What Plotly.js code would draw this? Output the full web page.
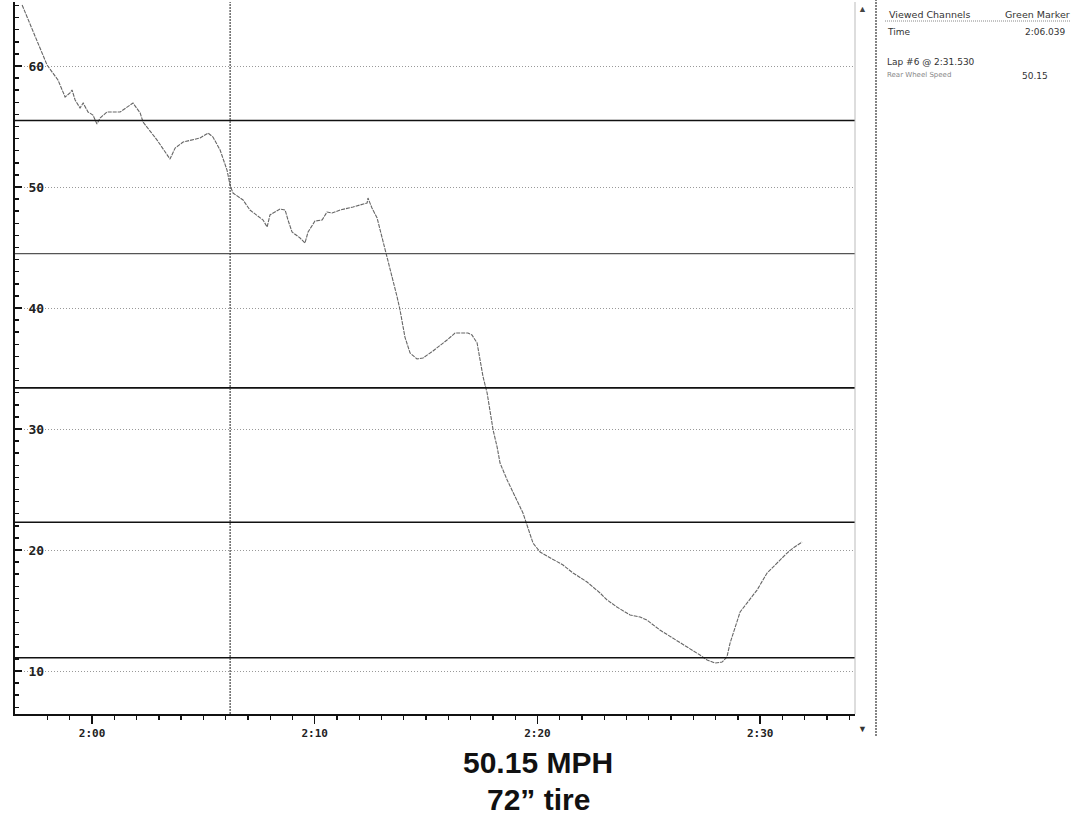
<!DOCTYPE html>
<html>
<head>
<meta charset="utf-8">
<script src="https://cdn.plot.ly/plotly-3.0.1.min.js"></script>
<style>html,body{margin:0;padding:0;background:#fff;}#chart{width:1073px;height:818px;}</style>
</head>
<body>
<div id="chart"></div>
<script>
// Lap time in seconds (120 = 2:00)
const time = [116.86,117.98,118.47,118.79,119.01,119.10,119.24,119.46,119.60,119.82,120.04,120.22,120.36,120.67,121.26,121.84,122.16,122.29,122.92,123.50,123.73,124.09,124.85,125.21,125.43,125.75,126.06,126.20,126.33,126.78,127.09,127.68,127.86,127.99,128.44,128.67,128.80,128.98,129.34,129.56,129.70,130.01,130.33,130.55,130.78,131.14,131.72,132.35,132.39,132.57,132.80,133.02,133.25,133.47,133.70,133.83,134.05,134.28,134.59,134.86,135.31,135.94,136.30,136.88,137.06,137.29,137.42,137.56,137.74,137.87,138.01,138.19,138.32,138.64,138.99,139.35,139.53,139.80,140.12,140.57,141.15,141.60,142.23,142.81,143.13,143.57,144.16,144.61,144.92,145.50,146.09,146.72,147.30,147.62,147.97,148.29,148.51,148.65,148.87,149.10,149.41,149.86,150.31,150.76,151.21,151.48,151.88];
// Rear wheel speed (MPH)
const speed = [65.04,60.08,58.84,57.44,57.77,58.02,57.19,56.53,56.94,56.20,55.95,55.21,55.70,56.20,56.20,56.94,56.12,55.37,53.88,52.31,53.22,53.72,54.05,54.46,54.13,53.06,51.40,50.15,49.50,48.93,48.10,47.27,46.69,47.69,48.18,48.10,47.27,46.28,45.79,45.37,46.28,47.19,47.27,47.93,47.85,48.10,48.35,48.68,49.09,48.26,47.44,45.87,44.21,42.56,40.91,39.83,37.60,36.28,35.79,35.87,36.45,37.36,37.93,37.93,37.77,37.11,35.70,34.30,32.98,31.57,29.92,28.51,27.19,25.79,24.38,23.06,22.07,20.58,19.83,19.34,18.76,18.10,17.36,16.45,15.87,15.29,14.63,14.46,14.21,13.39,12.73,11.98,11.32,10.91,10.66,10.74,11.16,12.31,13.64,14.88,15.62,16.69,18.10,18.93,19.75,20.17,20.66];
// Tick labels
const xTickVals = [120,130,140,150];
const xTickText = ['2:00','2:10','2:20','2:30'];
// Dark reference lines (MPH)
const refLines = [55.5,44.5,33.4,22.3,11.1];
// Cursor
const cursorTime = 126.2;
const cursorLabel = '2:06.039';
const cursorSpeed = '50.15';
const lapLabel = 'Lap #6 @ 2:31.530';
const channelName = 'Rear Wheel Speed';
const titleLines = ['50.15 MPH', '72\u201D tire'];

const L = 15, R = 855, T = 2, B = 714;
const px2x = p => (p - L) / (R - L);
const py2y = p => (B - p) / (B - T);

const shapes = [];
refLines.forEach((v, i) => {
  shapes.push({type:'line', xref:'paper', x0:0, x1:1, yref:'y', y0:v, y1:v,
    line:{color: i === 1 ? '#555' : '#111', width: i === 1 ? 1.3 : 1.6}});
});
shapes.push({type:'line', xref:'x', x0:cursorTime, x1:cursorTime, yref:'paper', y0:0, y1:1,
  line:{color:'#444', width:1.2, dash:'2px,1px'}});
shapes.push({type:'line', xref:'paper', x0:1, x1:1, yref:'paper', y0:0, y1:1,
  line:{color:'#bbb', width:1}});
shapes.push({type:'line', xref:'paper', x0:px2x(876), x1:px2x(876), yref:'paper', y0:py2y(736), y1:1.003,
  line:{color:'#333', width:1.2, dash:'2px,1px'}});
shapes.push({type:'line', xref:'paper', x0:px2x(885), x1:px2x(1070), yref:'paper', y0:py2y(21), y1:py2y(21),
  line:{color:'#888', width:1, dash:'1px,1px'}});

const small = {family:'DejaVu Sans', size:9, color:'#333'};
const annotations = [
  {text:'Viewed Channels', x:px2x(887), y:py2y(14), xanchor:'left', font:{family:'DejaVu Sans', size:9.5, color:'#333'}},
  {text:'Green Marker', x:px2x(1003), y:py2y(14), xanchor:'left', font:{family:'DejaVu Sans', size:9.5, color:'#333'}},
  {text:'Time', x:px2x(885), y:py2y(32), xanchor:'left', font:small},
  {text:cursorLabel, x:px2x(1068), y:py2y(32), xanchor:'right', font:small},
  {text:lapLabel, x:px2x(885), y:py2y(62), xanchor:'left', font:small},
  {text:channelName, x:px2x(885), y:py2y(75), xanchor:'left', font:{family:'DejaVu Sans', size:7, color:'#888'}},
  {text:cursorSpeed, x:px2x(1050), y:py2y(76), xanchor:'right', font:small},
  {text:'\u25B2', x:px2x(862), y:py2y(9), xanchor:'center', font:{size:9, color:'#444'}},
  {text:'\u25BC', x:px2x(862), y:py2y(729), xanchor:'center', font:{size:9, color:'#333'}},
  {text:titleLines[0], x:px2x(538), y:py2y(762), xanchor:'center', font:{family:'Liberation Sans', size:30, color:'#111', weight:'bold'}},
  {text:titleLines[1], x:px2x(538), y:py2y(799), xanchor:'center', font:{family:'Liberation Sans', size:30, color:'#111', weight:'bold'}}
].map(a => Object.assign({xref:'paper', yref:'paper', yanchor:'middle', showarrow:false}, a));

const data = [{
  x: time, y: speed, type:'scatter', mode:'lines',
  line:{color:'#666', width:1.1, dash:'4px,1px'}, hoverinfo:'skip', showlegend:false
}];

const layout = {
  width:1073, height:818,
  margin:{l:L, r:1073-R, t:T, b:818-B, pad:0},
  paper_bgcolor:'#fff', plot_bgcolor:'#fff',
  showlegend:false,
  xaxis:{
    range:[116.54,154.26], tickmode:'array', tickvals:xTickVals, ticktext:xTickText,
    ticks:'outside', ticklen:8, tickcolor:'#111', tickwidth:1.3,
    minor:{tickmode:'linear', tick0:120, dtick:1, ticks:'outside', ticklen:4, tickcolor:'#111', showgrid:false},
    showline:true, linecolor:'#111', linewidth:1.5, showgrid:false, zeroline:false,
    tickfont:{family:'DejaVu Sans Mono', size:11, color:'#222', weight:'bold'}
  },
  yaxis:{
    range:[6.45,65.29], tick0:0, dtick:10,
    ticks:'inside', ticklen:7, tickcolor:'#111', tickwidth:1.5,
    minor:{dtick:1, ticks:'inside', ticklen:4, tickcolor:'#111', showgrid:false},
    ticklabelposition:'inside', ticklabelstandoff:6,
    showline:true, linecolor:'#111', linewidth:2,
    showgrid:true, gridcolor:'#999', gridwidth:1, griddash:'1px,2px', zeroline:false,
    tickfont:{family:'DejaVu Sans Mono', size:13, color:'#222', weight:'bold'}
  },
  shapes: shapes,
  annotations: annotations
};

Plotly.newPlot('chart', data, layout, {staticPlot:true, displayModeBar:false});
</script>
</body>
</html>
